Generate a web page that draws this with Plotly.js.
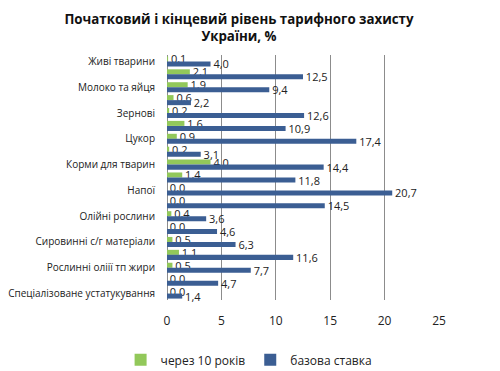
<!DOCTYPE html>
<html><head><meta charset="utf-8">
<script src="https://cdn.plot.ly/plotly-3.0.1.min.js"></script>
<style>body{margin:0;background:#fff}#chart{width:500px;height:371px}</style>
</head><body><div id="chart"></div>
<script>
// 19 category slots; only every other label is shown in the original chart
const positions = [0,1,2,3,4,5,6,7,8,9,10,11,12,13,14,15,16,17,18];
const tickPositions = [0,2,4,6,8,10,12,14,16,18];
const shownLabels = ['Живі тварини','Молоко та яйця','Зернові','Цукор','Корми для тварин','Напої','Олійні рослини','Сировинні с/г матеріали','Рослинні оліії тп жири','Спеціалізоване устатукування'];
const after10 = [0.1,2.1,1.9,0.6,0.2,1.6,0.9,0.2,4.0,1.4,0.0,0.0,0.4,0.0,0.5,1.1,0.5,0.0,0.0];
const baseRate = [4.0,12.5,9.4,2.2,12.6,10.9,17.4,3.1,14.4,11.8,20.7,14.5,3.6,4.6,6.3,11.6,7.7,4.7,1.4];
const seriesNames = ['через 10 років','базова ставка'];
const xTicks = [0,5,10,15,20,25];

const fmt = v => '\u00a0' + v.toFixed(1).replace('.', ',');
const FONT = '"Open Sans", "Liberation Sans", sans-serif';

const common = {type:'bar', orientation:'h', y:positions, textposition:'outside',
  constraintext:'none', cliponaxis:false, textfont:{size:11,color:'#222',family:FONT},
  hoverinfo:'none'};
const traces = [
  Object.assign({}, common, {name:seriesNames[0], x:after10, text:after10.map(fmt), marker:{color:'#92c85a'}}),
  Object.assign({}, common, {name:seriesNames[1], x:baseRate, text:baseRate.map(fmt), marker:{color:'#3b5e93'}})
];
const layout = {
  width:500, height:371,
  margin:{l:167, r:61, t:54.5, b:70.5, autoexpand:false},
  paper_bgcolor:'#fff', plot_bgcolor:'#fff',
  font:{family:FONT, size:11, color:'#222'},
  title:{text:'<b>Початковий і кінцевий рівень тарифного захисту<br>України, %</b>',
    font:{size:13.3, color:'#111', family:FONT}, x:0.478, xanchor:'center', y:0.935, yanchor:'top', yref:'container'},
  barmode:'group', bargap:0.22, bargroupgap:0,
  xaxis:{range:[0,25], tickvals:xTicks, showgrid:true, gridcolor:'#8c8c8c', gridwidth:1,
    zeroline:true, zerolinecolor:'#8c8c8c', showline:false, ticks:'', ticklabelstandoff:12,
    tickfont:{size:12, color:'#222'}},
  yaxis:{range:[18.5,-0.5], tickvals:tickPositions, ticktext:shownLabels, showgrid:false,
    zeroline:false, showline:false, ticks:'', ticklabelstandoff:11, tickfont:{size:10,color:'#222'}},
  showlegend:true,
  legend:{orientation:'h', x:0.3, xanchor:'center', xref:'paper', y:0.03, yanchor:'middle', yref:'container',
    font:{size:12,color:'#222'}, traceorder:'normal', itemwidth:30}
};
Plotly.newPlot('chart', traces, layout, {displayModeBar:false, staticPlot:true});
</script></body></html>
